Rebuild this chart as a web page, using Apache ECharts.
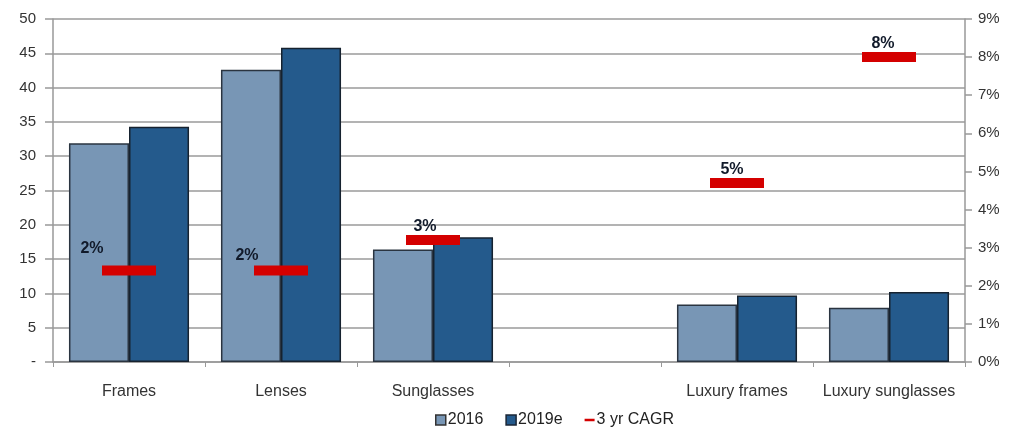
<!DOCTYPE html>
<html>
<head>
<meta charset="utf-8">
<script src="https://cdn.jsdelivr.net/npm/echarts@6/dist/echarts.min.js"></script>
<style>
html,body{margin:0;padding:0;background:#fff;}
#chart{width:1011px;height:427px;}
</style>
</head>
<body>
<div id="chart"></div>
<script>
var categories = ['Frames', 'Lenses', 'Sunglasses', '', 'Luxury frames', 'Luxury sunglasses'];
var values2016 = [31.9, 42.6, 16.4, null, 8.4, 7.9];
var values2019e = [34.3, 45.8, 18.2, null, 9.7, 10.2];
var cagr = [2.4, 2.4, 3.2, null, 4.7, 8.0];
var cagrLabels = ['2%', '2%', '3%', '', '5%', '8%'];
var leftTicks = ['-', '5', '10', '15', '20', '25', '30', '35', '40', '45', '50'];

var labelOffsets = [[-37, -22], [-34, -15], [-8, -13], [0, 0], [-5, -13], [-6, -14]];

var FONT = 'Liberation Sans, Arial, sans-serif';
var chart = echarts.init(document.getElementById('chart'));

var cagrData = cagr.map(function (v, i) {
  if (v == null) return null;
  return {
    value: v,
    label: { offset: labelOffsets[i] }
  };
});

chart.setOption({
  animation: false,
  textStyle: { fontFamily: FONT },
  grid: { left: 53, right: 46, top: 19, bottom: 65, containLabel: false },
  legend: {
    left: 430,
    top: 407,
    itemWidth: 10,
    itemHeight: 10,
    itemGap: 22,
    textStyle: { fontFamily: FONT, fontSize: 16, color: '#222', padding: [0, 0, 0, -3] },
    data: [
      { name: '2016', icon: 'rect', itemStyle: { color: '#7896b5', borderColor: '#333', borderWidth: 1.5 } },
      { name: '2019e', icon: 'rect', itemStyle: { color: '#245a8c', borderColor: '#1a2636', borderWidth: 1.5 } },
      { name: '3 yr CAGR', icon: 'path://M0,0 H8 V2 H0 Z', itemStyle: { color: '#d40000', opacity: 1 } }
    ]
  },
  xAxis: {
    type: 'category',
    data: categories,
    axisLine: { lineStyle: { color: '#999', width: 1.5 } },
    axisTick: { show: true, alignWithLabel: false, length: 5, lineStyle: { color: '#999' } },
    axisLabel: { fontFamily: FONT, fontSize: 16, color: '#333', margin: 22, interval: 0 }
  },
  yAxis: [
    {
      type: 'value',
      min: 0, max: 50, interval: 5,
      axisLine: { show: true, lineStyle: { color: '#999', width: 1.5 } },
      axisTick: { show: true, length: 8, lineStyle: { color: '#999', width: 1.5 } },
      axisLabel: {
        fontFamily: FONT, fontSize: 15, color: '#333', margin: 17,
        formatter: function (v) { return leftTicks[Math.round(v / 5)]; }
      },
      splitLine: { show: true, lineStyle: { color: '#9a9a9a', width: 1.6 } }
    },
    {
      type: 'value',
      min: 0, max: 9, interval: 1,
      position: 'right',
      axisLine: { show: true, lineStyle: { color: '#999', width: 1.5 } },
      axisTick: { show: true, length: 7, lineStyle: { color: '#999', width: 1.5 } },
      axisLabel: { fontFamily: FONT, fontSize: 15, color: '#333', margin: 13, formatter: '{value}%' },
      splitLine: { show: false }
    }
  ],
  series: [
    {
      name: '2016', type: 'bar', data: values2016,
      barGap: '0%', barCategoryGap: '21%',
      itemStyle: { color: '#7896b5', borderColor: '#2a3440', borderWidth: 1.5 }
    },
    {
      name: '2019e', type: 'bar', data: values2019e,
      barGap: '0%', barCategoryGap: '21%',
      itemStyle: { color: '#245a8c', borderColor: '#16222f', borderWidth: 1.5 }
    },
    {
      name: '3 yr CAGR', type: 'scatter', yAxisIndex: 1, data: cagrData,
      symbol: 'rect', symbolSize: [54, 10], z: 5,
      itemStyle: { color: '#d40000', opacity: 1 },
      label: {
        show: true, position: 'inside',
        fontFamily: FONT, fontSize: 16, fontWeight: 'bold', color: '#111a2a',
        formatter: function (p) { return cagrLabels[p.dataIndex]; }
      }
    }
  ]
});
</script>
</body>
</html>
